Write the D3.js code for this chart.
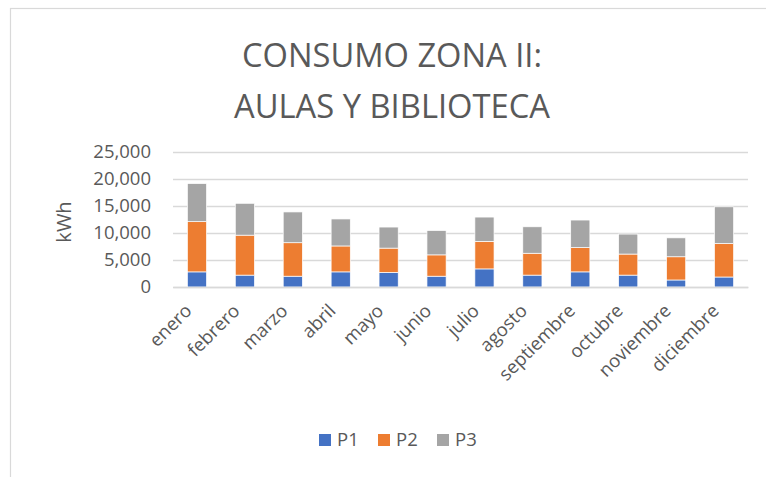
<!DOCTYPE html>
<html>
<head>
<meta charset="utf-8">
<script src="https://cdn.jsdelivr.net/npm/d3@7"></script>
<style>
  body { margin: 0; background: #fff; }
  text { font-family: "Open Sans", "Noto Sans", sans-serif; fill: #595959; }
</style>
</head>
<body>
<div id="chart"></div>
<script>
var months = ["enero", "febrero", "marzo", "abril", "mayo", "junio", "julio", "agosto", "septiembre", "octubre", "noviembre", "diciembre"];
var p1 = [2800, 2200, 2000, 2800, 2700, 2000, 3350, 2200, 2800, 2200, 1300, 1850];
var p2 = [9300, 7400, 6200, 4800, 4500, 3950, 5100, 4050, 4500, 3900, 4300, 6200];
var p3 = [7050, 5900, 5700, 5000, 3900, 4500, 4500, 4900, 5100, 3700, 3500, 6800];
var seriesNames = ["P1", "P2", "P3"];
var yTicks = [0, 5000, 10000, 15000, 20000, 25000];

var width = 766, height = 477;
var margin = {top: 152, right: 18, bottom: 190, left: 173};
var innerW = width - margin.left - margin.right,
    innerH = height - margin.top - margin.bottom;

var svg = d3.select("#chart")
    .append("svg")
    .attr("width", width)
    .attr("height", height);

// outer frame
svg.append("rect")
    .attr("x", 10.5)
    .attr("y", 8.5)
    .attr("width", width)
    .attr("height", height)
    .style("fill", "none")
    .style("stroke", "#d9d9d9")
    .style("stroke-width", 1.2);

// title
var title = svg.append("text")
    .attr("text-anchor", "middle")
    .style("font-size", "33px");
title.append("tspan").attr("x", 392).attr("y", 67).attr("textLength", 300).attr("lengthAdjust", "spacingAndGlyphs").text("CONSUMO ZONA II:");
title.append("tspan").attr("x", 392).attr("y", 118).attr("textLength", 316).attr("lengthAdjust", "spacingAndGlyphs").text("AULAS Y BIBLIOTECA");

var g = svg.append("g")
    .attr("transform", "translate(" + margin.left + "," + margin.top + ")");

var x = d3.scaleBand()
    .domain(months)
    .range([0, innerW])
    .paddingInner(0.6)
    .paddingOuter(0.3);

var y = d3.scaleLinear()
    .domain([0, 25000])
    .range([innerH, 0]);

var color = d3.scaleOrdinal()
    .domain(seriesNames)
    .range(["#4472c4", "#ed7d31", "#a5a5a5"]);

// gridlines
g.append("g")
    .attr("class", "grid")
    .call(d3.axisLeft(y).tickValues(yTicks).tickSize(-innerW).tickFormat(""))
    .call(function(s) {
        s.select(".domain").remove();
        s.selectAll("line").style("stroke", "#d9d9d9").style("stroke-width", 1.5);
    });

// y tick labels
g.append("g")
    .call(d3.axisLeft(y).tickValues(yTicks).tickSize(0).tickPadding(22).tickFormat(d3.format(",")))
    .call(function(s) {
        s.select(".domain").remove();
        s.selectAll("text").style("font-size", "18.5px").style("fill", "#595959");
    });

// y axis label
svg.append("text")
    .attr("transform", "translate(71,222) rotate(-90)")
    .attr("text-anchor", "middle")
    .style("font-size", "20px")
    .text("kWh");

// stacked bars
var table = months.map(function(m, i) {
    return {month: m, P1: p1[i], P2: p2[i], P3: p3[i]};
});
var stacked = d3.stack().keys(seriesNames)(table);

g.selectAll(".series")
    .data(stacked)
    .enter().append("g")
    .attr("class", "series")
    .style("fill", function(d) { return color(d.key); })
    .selectAll("rect")
    .data(function(d) { return d; })
    .enter().append("rect")
        .attr("x", function(d) { return x(d.data.month); })
        .attr("y", function(d) { return y(d[1]); })
        .attr("width", x.bandwidth())
        .attr("height", function(d) { return y(d[0]) - y(d[1]); })
        .style("stroke", "#ffffff")
        .style("stroke-width", 0.7);

// x axis baseline + labels
g.append("g")
    .attr("transform", "translate(0," + innerH + ")")
    .call(d3.axisBottom(x).tickSize(0).tickPadding(0))
    .call(function(s) {
        s.select(".domain").style("stroke", "#d9d9d9").style("stroke-width", 1.5);
        s.selectAll("text")
            .style("font-size", "18.5px")
            .style("fill", "#595959")
            .style("text-anchor", "end")
            .attr("dy", null)
            .attr("y", 0)
            .attr("transform", "translate(-4,25) rotate(-45)");
    });

// legend
var legend = svg.selectAll(".legend")
    .data(seriesNames)
    .enter().append("g")
    .attr("class", "legend")
    .attr("transform", function(d, i) { return "translate(" + (319 + i * 59) + ",434)"; });

legend.append("rect")
    .attr("width", 12)
    .attr("height", 12)
    .style("fill", color);

legend.append("text")
    .attr("x", 18)
    .attr("y", 12)
    .style("font-size", "18.5px")
    .text(function(d) { return d; });
</script>
</body>
</html>
